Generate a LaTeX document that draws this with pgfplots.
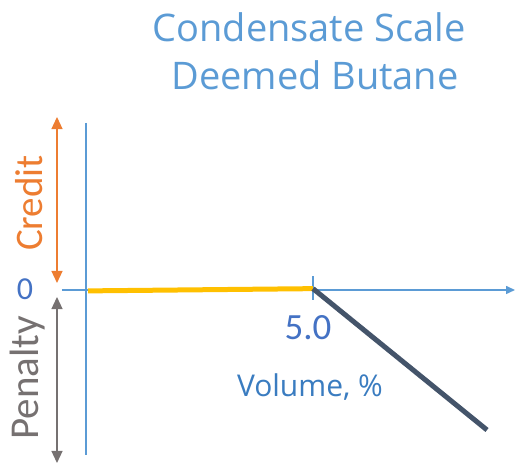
\documentclass[border=0pt]{standalone}
\usepackage{pgfplots}
\pgfplotsset{compat=1.18}
\usepackage{fontspec}
\setmainfont{Carlito}
\newfontfamily\titlefont{Open Sans}
\usetikzlibrary{arrows.meta}
\definecolor{axblue}{HTML}{5B9BD5}
\definecolor{numblue}{HTML}{4472C4}
\definecolor{lblblue}{HTML}{3A7CC0}
\definecolor{goldline}{HTML}{FFC000}
\definecolor{darkline}{HTML}{44546A}
\definecolor{credorange}{HTML}{ED7D31}
\definecolor{pengray}{HTML}{767171}
\begin{document}
\begin{tikzpicture}
\begin{axis}[
  width=517bp, height=465bp, scale only axis,
  xmin=-1.9556, xmax=9.5333, ymin=-3.8889, ymax=6.4444,
  hide axis, clip=false]
\path (rel axis cs:0,0) rectangle (rel axis cs:1,1);
% axes
\draw[axblue, line width=2.8bp] (axis cs:-0.044,3.711) -- (axis cs:-0.044,-3.667);
\draw[axblue, line width=1.5bp, -{Triangle[length=9bp,width=8bp]}] (axis cs:-0.578,0) -- (axis cs:9.489,0);
\draw[axblue, line width=1.2bp] (axis cs:5,0.311) -- (axis cs:5,-0.222);
% data
\addplot[goldline, line width=5bp] coordinates {(0,-0.02) (5,0.03)};
\addplot[darkline, line width=5bp] coordinates {(5,0.03) (8.867,-3.111)};
% labels
\node[numblue, font=\fontsize{32bp}{38bp}\selectfont] at (axis cs:-1.4,0.02) {0};
\node[numblue, font=\fontsize{37bp}{44bp}\selectfont] at (axis cs:4.889,-0.844) {5.0};
\node[lblblue, font=\titlefont\fontsize{30bp}{36bp}\selectfont] at (axis cs:4.933,-2.15) {Volume, \%};
\node[axblue, font=\titlefont\fontsize{38bp}{46bp}\selectfont] at (axis cs:4.911,5.844) {Condensate Scale};
\node[axblue, font=\titlefont\fontsize{38bp}{46bp}\selectfont] at (axis cs:5.044,4.778) {Deemed Butane};
\node[credorange, rotate=90, font=\fontsize{39bp}{46bp}\selectfont] at (axis cs:-1.311,1.933) {Credit};
\node[pengray, rotate=90, font=\fontsize{41bp}{48bp}\selectfont] at (axis cs:-1.333,-1.95) {Penalty};
\draw[credorange, line width=1.3bp, {Triangle[length=12bp,width=11bp]}-{Triangle[length=12bp,width=11bp]}] (axis cs:-0.689,3.844) -- (axis cs:-0.689,0.156);
\draw[pengray, line width=1.3bp, {Triangle[length=12bp,width=11bp]}-{Triangle[length=12bp,width=11bp]}] (axis cs:-0.689,-0.156) -- (axis cs:-0.689,-3.844);
\end{axis}
\end{tikzpicture}
\end{document}
